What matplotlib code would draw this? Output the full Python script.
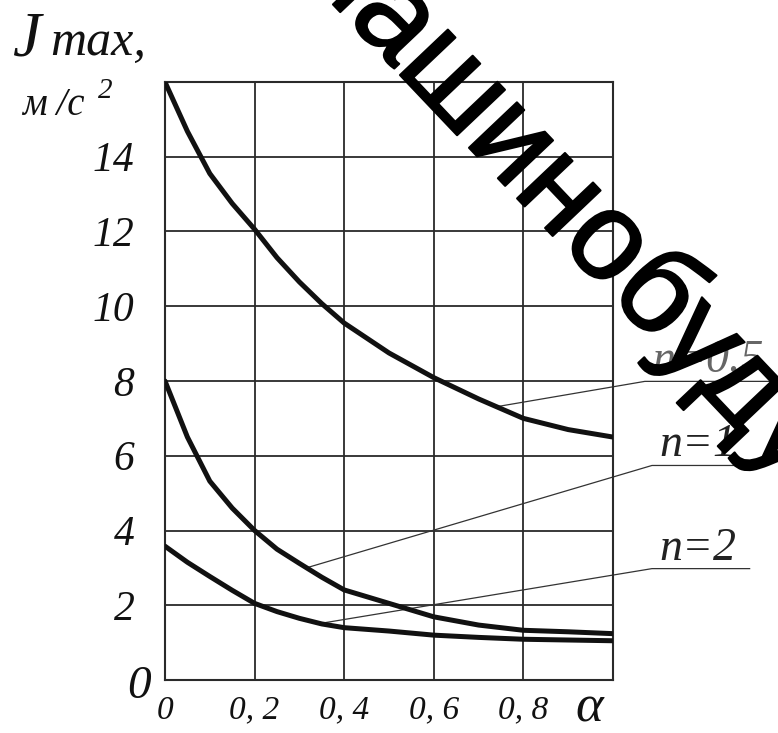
import numpy as np
import matplotlib
matplotlib.use("Agg")
import matplotlib.pyplot as plt
import matplotlib.patheffects as pe

# значення коефіцієнта alpha та максимальні прискорення для трьох n
alpha = [0.0, 0.05, 0.1, 0.15, 0.2, 0.25, 0.3, 0.35, 0.4, 0.5, 0.6, 0.7, 0.8, 0.9, 1.0]
j_n05 = [16.0, 14.68, 13.55, 12.75, 12.06, 11.3, 10.65, 10.07, 9.55, 8.75, 8.09, 7.52, 7.0, 6.7, 6.5]
j_n1 = [8.0, 6.5, 5.32, 4.6, 4.0, 3.5, 3.12, 2.75, 2.41, 2.05, 1.69, 1.47, 1.33, 1.29, 1.24]
j_n2 = [3.58, 3.15, 2.77, 2.4, 2.05, 1.83, 1.65, 1.5, 1.4, 1.31, 1.2, 1.14, 1.09, 1.07, 1.05]

curve_names = ["n=0.5", "n=1", "n=2"]
curve_data = [j_n05, j_n1, j_n2]

xticks = [0.0, 0.2, 0.4, 0.6, 0.8, 1.0]
xlabels = ["0", "0, 2", "0, 4", "0, 6", "0, 8", ""]
yticks = [0, 2, 4, 6, 8, 10, 12, 14, 16]
ylabels = ["", "2", "4", "6", "8", "10", "12", "14", ""]

W, H = 778, 733
serif = "Liberation Serif"

fig = plt.figure(figsize=(W / 100, H / 100), dpi=100)
ax = fig.add_axes([165 / W, 1 - 680 / H, (613 - 165) / W, (680 - 82) / H])


def px(x, y):
    # піксельні координати -> частки фігури
    return x / W, 1 - y / H


ax.set_xlim(0, 1)
ax.set_ylim(0, 16)
ax.set_xticks(xticks)
ax.set_xticklabels(xlabels, family=serif, style="italic", fontsize=24)
ax.set_yticks(yticks)
ax.set_yticklabels(ylabels, family=serif, style="italic", fontsize=30)
ax.tick_params(length=0, colors="#111")
ax.tick_params(axis="x", pad=11)
ax.tick_params(axis="y", pad=22)
ax.grid(True, color="#2a2a2a", lw=1.3)
for s in ax.spines.values():
    s.set_color("#2a2a2a")
    s.set_linewidth(1.5)

for jj in curve_data:
    ax.plot(alpha, jj, color="#111", lw=3.6, solid_capstyle="round",
            solid_joinstyle="round", zorder=3)

# виносні лінії до підписів кривих
leader_from = [0.74, 0.316, 0.346]
leader_y = [7.99, 5.74, 2.98]
leader_mid = [1.071, 1.087, 1.087]
leader_end = [1.45, 1.305, 1.305]
label_colors = ["#666", "#222", "#222"]
for name, jj, a0, ly, am, ae, c in zip(curve_names, curve_data, leader_from,
                                       leader_y, leader_mid, leader_end, label_colors):
    y0 = np.interp(a0, alpha, jj)
    ax.plot([a0, am, ae], [y0, ly, ly], color="#333", lw=0.9, clip_on=False, zorder=2)
    ax.text(am + 0.017, ly + 0.24, name, family=serif, style="italic", fontsize=33,
            color=c, ha="left", va="baseline", clip_on=False, zorder=5)

# нуль у куті та позначення осей
fig.text(*px(127, 698), "0", family=serif, style="italic", fontsize=34, color="#111")
fig.text(*px(575, 721), "α", family=serif, style="italic", fontsize=38, color="#111")
fig.text(*px(12, 55), "J", family=serif, style="italic", fontsize=46, color="#111")
fig.text(*px(50, 55), "max,", family=serif, style="italic", fontsize=36, color="#111")
fig.text(*px(22, 115), "м /с", family=serif, style="italic", fontsize=28, color="#111")
fig.text(*px(98, 98), "2", family=serif, style="italic", fontsize=21, color="#111")

# водяний знак
fig.text(*px(287, -44), "машинобудування", family="Liberation Sans", fontsize=90,
         rotation=-46.5, rotation_mode="anchor", ha="left", va="baseline",
         color="black", zorder=10,
         path_effects=[pe.withStroke(linewidth=1.5, foreground="black")])

fig.savefig("out.png", dpi=100, facecolor="white")
